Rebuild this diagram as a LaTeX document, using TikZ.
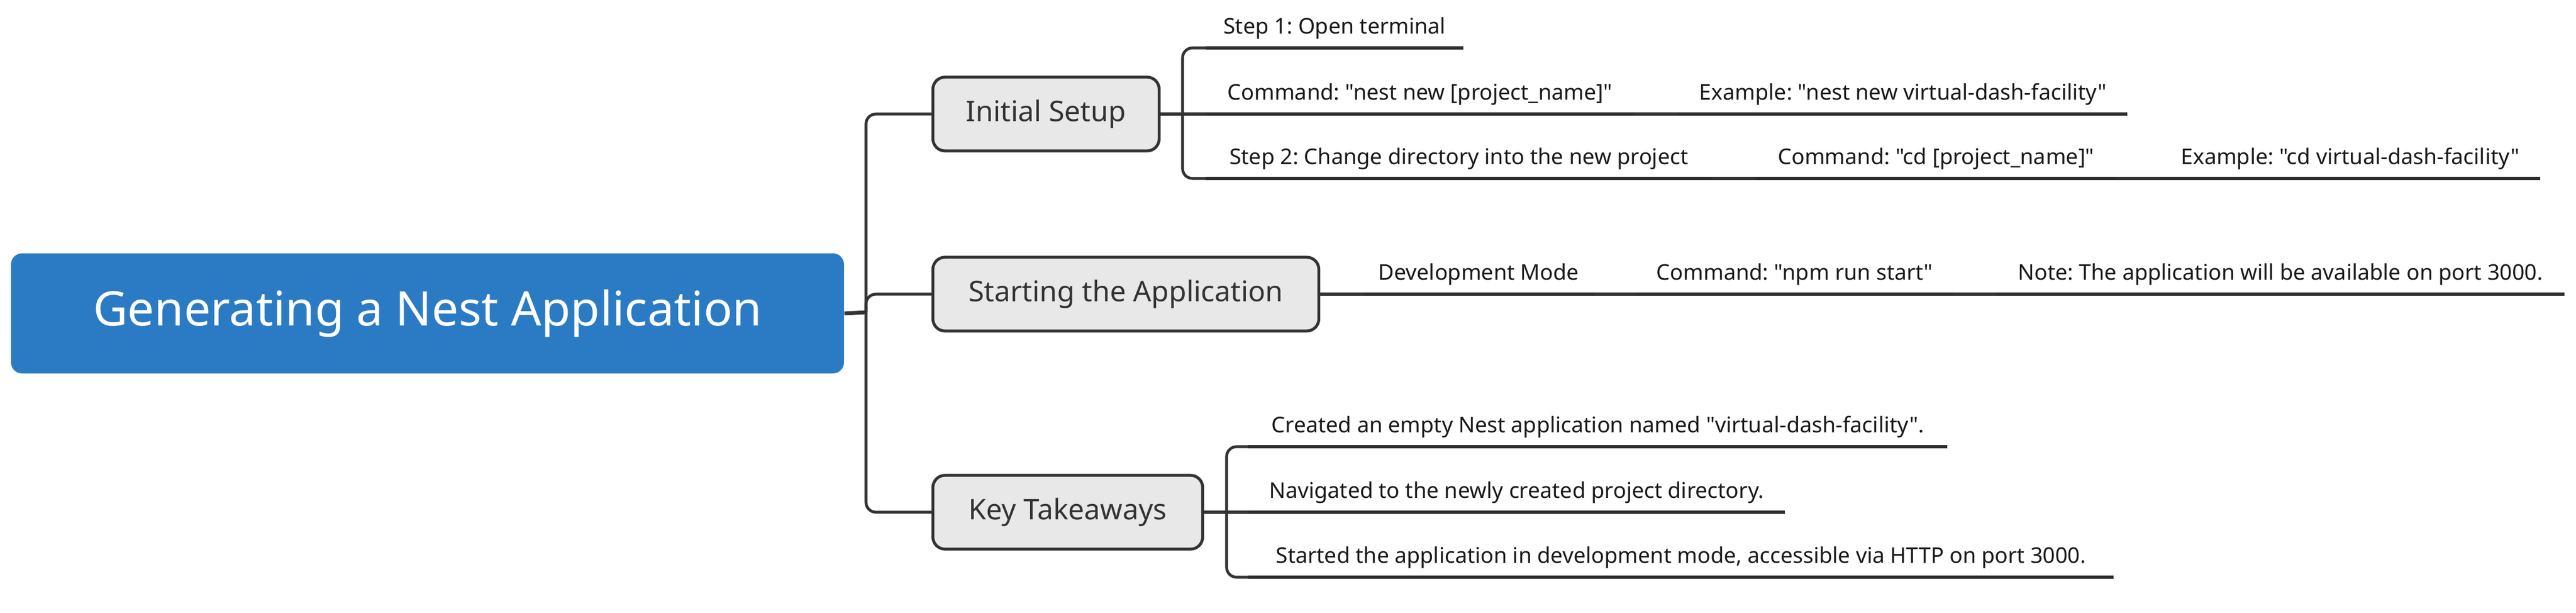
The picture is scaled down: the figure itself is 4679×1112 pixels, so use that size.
\documentclass[tikz,border=0pt]{standalone}
\usepackage{fontspec}
\setmainfont{Noto Sans}[Ligatures=TeXReset]
\definecolor{cblue}{HTML}{2B7BC4}
\definecolor{cfill}{HTML}{E8E8E8}
\definecolor{cline}{HTML}{333333}
\definecolor{ctext}{HTML}{1A1A1A}
\begin{document}
\frenchspacing
\begin{tikzpicture}[x=0.1mm,y=-0.1mm,
  central/.style={fill=cblue, rounded corners=2mm, text=white, inner sep=0pt,
    minimum width=151.3mm, minimum height=21.8mm, font=\fontsize{24.6}{28}\selectfont},
  topic/.style={draw=cline, line width=1.5pt, fill=cfill, rounded corners=2.2mm, text=cline,
    inner sep=0pt, minimum height=13.4mm, font=\fontsize{14.7}{18}\selectfont},
  leaf/.style={anchor=south west, inner xsep=0pt, inner ysep=7.2pt, text depth=0pt,
    text=ctext, font=\fontsize{11.2}{13}\selectfont},
  conn/.style={draw=cline, line width=1.45pt, rounded corners=1.8mm},
  uline/.style={draw=cline!90!black, line width=1.45pt}]
\useasboundingbox (0,0) rectangle (4679,1112);
% central
\node[central] (c) at (776.5,569) {Generating a Nest Application};
% topics
\node[topic, minimum width=41.1mm] (is) at (1900,207) {Initial Setup};
\node[topic, minimum width=70.1mm] (sa) at (2045,534) {Starting the Application};
\node[topic, minimum width=49.0mm] (kt) at (1939.5,930) {Key Takeaways};
% junctions
\coordinate (t0) at (1573,567);
\coordinate (j1) at (2148,207);
\coordinate (j3) at (2228,930);
% leaves: initial setup
\node[leaf, minimum width=46.7mm] (s1) at (2190,87) {Step 1: Open terminal};
\node[leaf, minimum width=77.7mm] (c1) at (2190,207) {Command: "nest new [project\_name]"};
\node[leaf, minimum width=81.4mm] (e1) at (3049,207) {Example: "nest new virtual-dash-facility"};
\node[leaf, minimum width=91.8mm] (s2) at (2190,324) {Step 2: Change directory into the new project};
\node[leaf, minimum width=65.4mm] (c2) at (3189,324) {Command: "cd [project\_name]"};
\node[leaf, minimum width=69.0mm] (e2) at (3923,324) {Example: "cd virtual-dash-facility"};
% leaves: starting
\node[leaf, minimum width=41.6mm] (dv) at (2477,534) {Development Mode};
\node[leaf, minimum width=57.4mm] (np) at (2972,534) {Command: "npm run start"};
\node[leaf, minimum width=103.1mm] (nt) at (3626,534) {Note: The application will be available on port 3000.};
% leaves: key takeaways
\node[leaf, minimum width=126.9mm] (k1) at (2267,811) {Created an empty Nest application named "virtual-dash-facility".};
\node[leaf, minimum width=97.4mm] (k2) at (2267,930) {Navigated to the newly created project directory.};
\node[leaf, minimum width=157.1mm] (k3) at (2267,1048) {Started the application in development mode, accessible via HTTP on port 3000.};
% main trunk
\draw[conn, line width=2pt, rounded corners=0pt] (c.east) -- (t0);
\draw[conn] (is.west) -| (t0) |- (kt.west);
\draw[conn] (t0) |- (sa.west);
% initial setup connectors
\draw[conn] (is.east) -- (c1.south west);
\draw[conn] (s1.south west) -| (j1) |- (s2.south west);
\foreach \n in {s1,c1,e1,s2,c2,e2,dv,np,nt,k1,k2,k3} \draw[uline] (\n.south west) -- (\n.south east);
\draw[conn] (c1.south east) -- (e1.south west);
\draw[conn] (s2.south east) -- (c2.south west);
\draw[conn] (c2.south east) -- (e2.south west);
% starting connectors
\draw[conn] (sa.east) -- (dv.south west);
\draw[conn] (dv.south east) -- (np.south west);
\draw[conn] (np.south east) -- (nt.south west);
% key takeaways connectors
\draw[conn] (kt.east) -- (k2.south west);
\draw[conn] (k1.south west) -| (j3) |- (k3.south west);
\end{tikzpicture}
\end{document}
